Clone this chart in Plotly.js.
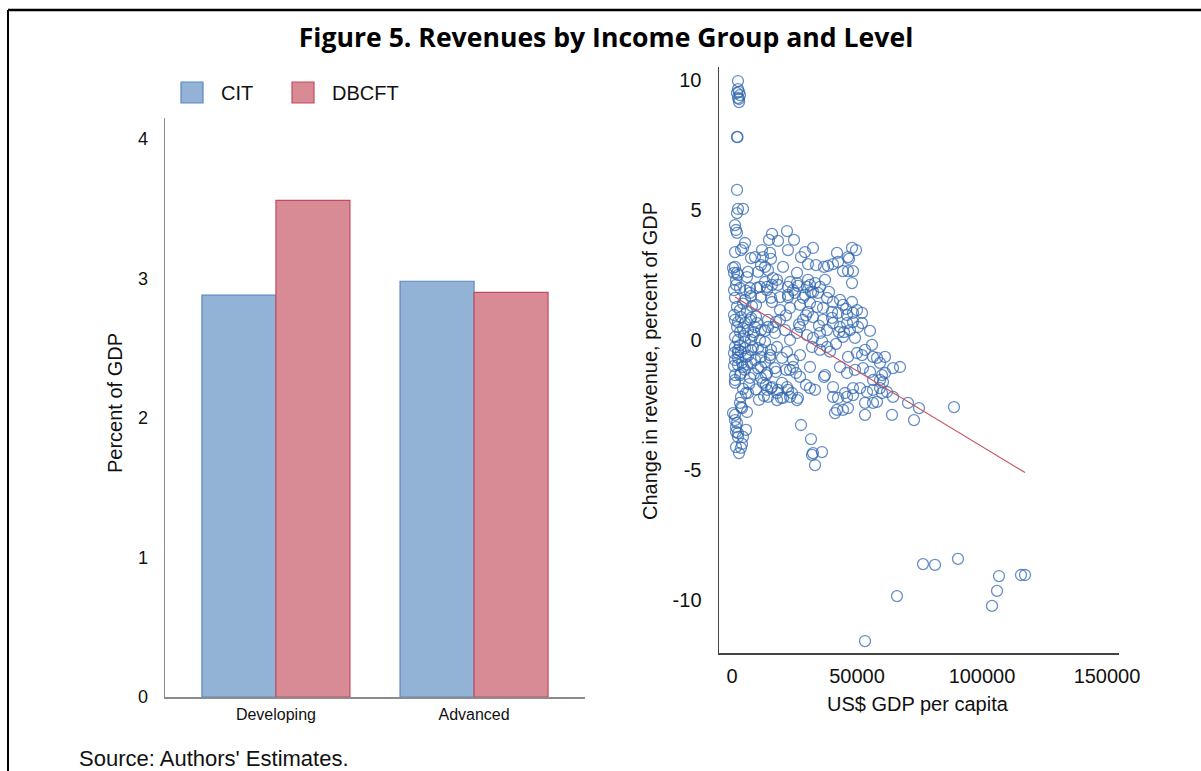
<!DOCTYPE html>
<html>
<head>
<meta charset="utf-8">
<script src="https://cdn.plot.ly/plotly-3.0.1.min.js"></script>
<style>html,body{margin:0;padding:0;background:#fff;}#chart{width:1201px;height:771px;}</style>
</head>
<body>
<div id="chart"></div>
<script>
// ---- Bar panel data ----
const groups = ["Developing", "Advanced"];
const citValues = [2.88, 2.98];
const dbcftValues = [3.56, 2.90];
const barYTicks = [0, 1, 2, 3, 4];

// ---- Scatter panel data (US$ GDP per capita, change in revenue % of GDP) ----
const gdpPerCapita = [
2400,2400,2800,2000,3200,2400,2800,2800,2000,2200,2000,2400,4400,2000,1200,1600,2000,
16000,22000,14800,18400,24800,5200,4400,3600,1200,12000,15200,22400,29200,32400,48000,49600,42000,46400,
7600,9200,12400,15600,27600,30400,33600,36800,38400,40400,46800,11600,20400,1200,400,2000,800,2400,6400,10400,
13200,14400,44400,46400,48400,42400,1600,1600,6000,16400,48000,7200,11200,14000,13200,16000,18000,23200,26000,
26400,30400,33200,35200,37200,31200,26000,31600,34400,29200,24400,22400,18400,7600,11600,15600,19200,22400,
1200,2000,3200,5200,7200,10000,14000,16000,19200,23200,22400,25200,28400,30000,32400,38000,40400,43200,44400,
48000,50000,52000,48400,46000,42400,40000,36400,34000,31200,27200,30400,32400,52000,55200,3600,2400,5200,7600,
9200,11600,14400,17200,1200,2000,1200,3200,7200,6400,8400,10000,11200,13200,14400,16400,19200,21200,23200,26000,
27200,28400,30000,32400,35200,38000,40400,43200,46000,48400,50400,36400,40000,47200,44400,49200,35200,32000,38000,
2400,5200,7600,13200,2400,5200,7600,10400,15600,2400,5600,9200,11600,15200,2400,4400,7600,11600,1200,3600,1200,
7200,11600,13600,17600,21600,24400,25600,13600,15600,18400,14400,19600,22400,23200,26400,29600,33200,27200,36800,
4400,6400,3600,3600,1200,2000,1600,5600,4400,1600,3600,2800,27600,31600,32400,36000,33200,2400,1200,1200,4000,
3200,5200,8400,12000,13200,15200,18000,20000,22000,24400,23200,17200,14000,10400,27200,31200,43200,46400,50000,
53200,56000,58000,61200,64400,67200,46000,49200,52400,55200,60000,56400,59200,61200,60400,60000,59200,1200,3200,
12400,14000,16000,18000,20000,22000,24000,20400,18000,26000,31200,40400,42400,46000,48400,51200,54000,56400,
59200,62000,64400,53200,56400,37200,40400,42000,44400,46400,58000,64000,53200,72800,70400,74800,88800,32000,400,
2400,4000,6000,41200,4000,1200,1600,5600,2400,52000,56400,48400,45200,
800,3200,4400,800,6000,4800,800,6400,3200,8800,6800,9600,8000,9600,10800,12800,800,6000,4400,9600,
34800,38800,42800,45600,29600,36000,41600,26800,21600,17600,8800,5600,3600,44800,39200,
76400,81200,90400,106800,115600,117200,106000,104000,66000,53200
];
const revenueChange = [
9.96,9.65,9.54,9.50,9.42,9.31,9.27,9.15,7.81,7.80,5.77,5.04,5.04,4.88,4.42,4.23,4.12,
4.08,4.19,3.85,3.81,3.85,3.73,3.54,3.46,3.38,3.46,3.35,3.46,3.38,3.54,3.54,3.46,3.35,3.19,
3.15,3.19,3.19,3.12,3.19,2.92,2.88,2.81,2.85,2.92,3.12,2.88,2.81,2.81,2.77,2.58,2.58,2.50,2.62,2.62,
2.81,2.69,2.65,2.65,2.65,3.00,2.31,2.12,2.42,2.38,2.19,2.00,2.04,2.04,2.23,2.12,2.31,2.23,2.19,
2.08,2.31,2.19,2.04,2.31,2.12,2.58,1.85,1.81,1.73,1.92,2.04,2.12,1.69,1.65,1.62,1.65,1.65,
1.62,1.27,1.15,1.54,1.81,2.00,1.92,1.46,1.15,1.23,1.73,1.81,1.62,2.04,1.85,1.62,1.46,1.54,1.35,
1.46,1.15,1.04,1.04,0.96,1.04,1.08,1.23,1.27,1.42,1.35,1.08,0.88,0.65,0.35,0.88,0.69,0.65,0.85,
0.50,0.38,0.50,0.27,0.77,0.50,0.12,0.31,0.77,0.38,0.19,0.65,0.00,0.35,0.77,0.50,0.77,0.38,0.00,0.27,
0.50,0.77,0.19,0.08,0.27,0.38,0.65,0.50,0.65,0.69,0.50,0.77,0.85,0.38,0.12,0.08,-0.38,-0.27,-0.27,
0.00,-0.08,0.00,-0.08,-0.38,-0.31,-0.38,-0.31,-0.38,-0.69,-0.65,-0.77,-0.65,-0.69,-0.96,-1.04,-0.88,-1.04,-1.35,-1.27,-1.54,
-1.46,-1.46,-1.35,-1.23,-1.15,-1.04,-1.27,-1.73,-1.85,-1.92,-2.19,-2.23,-1.92,-2.19,-2.23,-1.73,-1.92,-1.42,-1.42,
-1.88,-2.04,-2.19,-2.58,-2.88,-3.19,-3.54,-3.46,-3.73,-4.12,-4.15,-4.35,-3.27,-3.81,-4.35,-4.31,-4.81,-0.50,-0.27,-0.77,-0.88,
-1.35,-1.15,-0.27,-0.38,-0.85,-0.58,-0.27,-0.69,-0.46,-0.77,-1.15,-1.08,-1.27,-1.08,-0.58,-1.04,-1.04,-0.65,-0.50,
-0.38,-0.19,-0.69,-0.65,-1.08,-1.04,-1.27,-1.15,-1.08,-1.23,-1.35,-1.54,-0.88,-1.27,-1.62,-2.04,-1.54,-1.65,-2.42,
-1.65,-1.92,-1.81,-2.04,-1.65,-1.81,-2.04,-2.23,-2.31,-2.31,-1.85,-1.81,-2.23,-2.19,-2.12,-1.85,-2.00,-1.92,
-1.85,-2.00,-2.19,-2.42,-2.42,-1.35,-2.19,-2.69,-2.69,-2.62,-2.38,-2.88,-2.88,-3.08,-2.42,-2.62,-2.58,-4.42,-2.81,
-3.58,-2.62,-2.77,-2.81,-4.00,-3.08,-3.35,-2.04,-3.73,-0.58,-0.65,-1.85,-2.04,
1.92,2.00,1.40,0.96,1.08,0.15,-0.50,-0.60,-0.20,-1.30,-1.70,0.90,1.30,-1.90,-2.30,-2.15,-1.00,-0.95,0.45,1.35,
0.55,1.85,0.30,1.20,0.95,-0.05,-0.15,0.60,0.95,0.70,0.30,1.90,-0.45,0.30,-0.45,
-8.62,-8.65,-8.42,-9.08,-9.04,-9.04,-9.65,-10.23,-9.85,-11.58
];
// Fitted line endpoints
const fitGdp = [1200, 117200];
const fitChange = [1.65, -5.1];

const scatterXTicks = [0, 50000, 100000, 150000];
const scatterYTicks = [10, 5, 0, -5, -10];
const scatterYTickText = ["10", "5", "0", "-5", "-10"];

const W = 1201, H = 771;
const px = v => v / W;
const py = v => 1 - v / H;

const citFill = "#92b2d6", citLine = "#5b88bf";
const dbFill = "#d98b95", dbLine = "#c34b5e";

const traces = [
  {type: "bar", name: "CIT", x: groups, y: citValues, xaxis: "x", yaxis: "y",
   marker: {color: citFill, line: {color: citLine, width: 1.2}}, hoverinfo: "skip"},
  {type: "bar", name: "DBCFT", x: groups, y: dbcftValues, xaxis: "x", yaxis: "y",
   marker: {color: dbFill, line: {color: dbLine, width: 1.2}}, hoverinfo: "skip"},
  {type: "scatter", mode: "markers", x: gdpPerCapita, y: revenueChange, xaxis: "x2", yaxis: "y2",
   marker: {symbol: "circle-open", size: 11, color: "rgba(45,100,175,0.72)", line: {width: 1.3}},
   hoverinfo: "skip"},
  {type: "scatter", mode: "lines", x: fitGdp, y: fitChange, xaxis: "x2", yaxis: "y2",
   line: {color: "#c8505f", width: 1.2}, hoverinfo: "skip"}
];

const tickFont = {family: "Liberation Sans, Arial, sans-serif", color: "#111"};

const layout = {
  width: W, height: H,
  margin: {l: 0, r: 0, t: 0, b: 0},
  paper_bgcolor: "#fff", plot_bgcolor: "rgba(0,0,0,0)",
  showlegend: false,
  barmode: "group", bargap: 0.253, bargroupgap: 0,
  title: {text: "<b>Figure 5. Revenues by Income Group and Level</b>", x: 606 / W, xanchor: "center",
          y: py(38), yanchor: "middle", font: {family: "Open Sans, sans-serif", size: 26.6, color: "#000"}},
  xaxis: {domain: [px(165), px(585)], anchor: "y", range: [-0.56, 1.56], type: "category",
          showline: true, linecolor: "#8c8c8c", linewidth: 1.5, showgrid: false, zeroline: false,
          ticks: "", ticklabelstandoff: 2, tickfont: Object.assign({size: 16}, tickFont), fixedrange: true},
  yaxis: {domain: [py(697), py(118)], anchor: "x", range: [0, 4.15],
          tickvals: barYTicks, showline: true, linecolor: "#8c8c8c", linewidth: 1.5, showgrid: false, zeroline: false,
          ticks: "", ticklabelstandoff: 12, tickfont: Object.assign({size: 18}, tickFont), fixedrange: true},
  xaxis2: {domain: [px(719), px(1119)], anchor: "y2", range: [-5200, 154800],
           tickvals: scatterXTicks, tickformat: "d", showline: true, linecolor: "#444", linewidth: 1.5,
           showgrid: false, zeroline: false, ticks: "", ticklabelstandoff: 4,
           tickfont: Object.assign({size: 20}, tickFont), fixedrange: true},
  yaxis2: {domain: [py(653), py(67)], anchor: "x2", range: [-12.04, 10.5],
           tickvals: scatterYTicks, ticktext: scatterYTickText, showline: true, linecolor: "#444", linewidth: 1.5,
           showgrid: false, zeroline: false, ticks: "", ticklabelstandoff: 12,
           tickfont: Object.assign({size: 20}, tickFont), fixedrange: true},
  shapes: [
    {type: "line", xref: "paper", yref: "paper", x0: px(8), x1: 1.01, y0: py(10), y1: py(10), line: {color: "#000", width: 2.5}},
    {type: "line", xref: "paper", yref: "paper", x0: px(8), x1: px(8), y0: py(10), y1: -0.01, line: {color: "#000", width: 2}},
    {type: "rect", xref: "paper", yref: "paper", x0: px(181), x1: px(203), y0: py(103), y1: py(82), fillcolor: citFill, line: {color: citLine, width: 1.2}},
    {type: "rect", xref: "paper", yref: "paper", x0: px(292), x1: px(314), y0: py(103), y1: py(82), fillcolor: dbFill, line: {color: dbLine, width: 1.2}}
  ],
  annotations: [
    {text: "CIT", xref: "paper", yref: "paper", x: px(219), y: py(93), xanchor: "left", yanchor: "middle", showarrow: false,
     font: Object.assign({size: 20}, tickFont)},
    {text: "DBCFT", xref: "paper", yref: "paper", x: px(330), y: py(93), xanchor: "left", yanchor: "middle", showarrow: false,
     font: Object.assign({size: 20}, tickFont)},
    {text: "Percent of GDP", xref: "paper", yref: "paper", x: px(115), y: py(403), xanchor: "center", yanchor: "middle",
     textangle: -90, showarrow: false, font: Object.assign({size: 20}, tickFont)},
    {text: "Change in revenue, percent of GDP", xref: "paper", yref: "paper", x: px(650), y: py(361), xanchor: "center", yanchor: "middle",
     textangle: -90, showarrow: false, font: Object.assign({size: 20}, tickFont)},
    {text: "US$ GDP per capita", xref: "paper", yref: "paper", x: px(918), y: py(704), xanchor: "center", yanchor: "middle",
     showarrow: false, font: Object.assign({size: 20}, tickFont)},
    {text: "Source: Authors' Estimates.", xref: "paper", yref: "paper", x: px(77), y: py(758), xanchor: "left", yanchor: "middle",
     showarrow: false, font: Object.assign({size: 22}, tickFont)}
  ]
};

Plotly.newPlot("chart", traces, layout, {staticPlot: true, displayModeBar: false});
</script>
</body>
</html>
